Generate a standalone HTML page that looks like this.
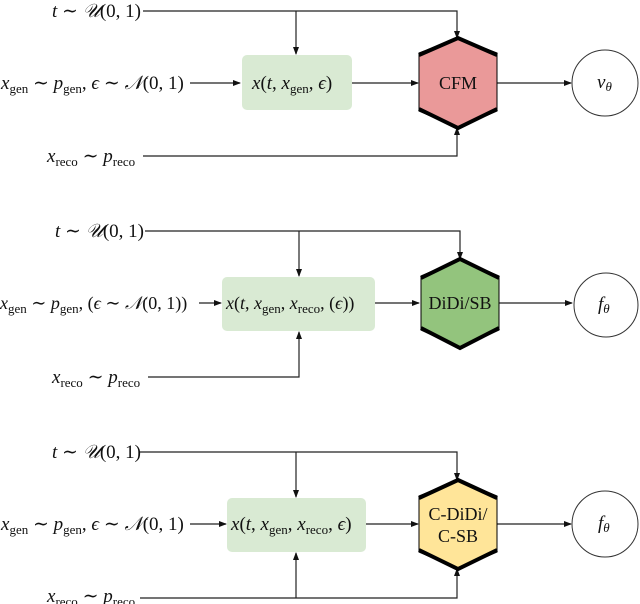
<!DOCTYPE html>
<html><head><meta charset="utf-8"><style>
html,body{margin:0;padding:0;background:#fff}
svg{display:block}
text{font-family:"Liberation Serif","DejaVu Serif",serif;font-size:19px;fill:#111}
.i{font-style:italic}
.s{font-size:13px}
.h{font-size:18px}
</style></head><body>
<svg width="640" height="604" viewBox="0 0 640 604" xmlns="http://www.w3.org/2000/svg">
<defs><marker id="a" markerWidth="8" markerHeight="6" refX="7" refY="3" orient="auto" markerUnits="userSpaceOnUse"><path d="M0,0 L8,3 L0,6 z" fill="#111"/></marker></defs>
<g stroke="#222" stroke-width="1.2" fill="none">
<path d="M143,11 H457 V38" marker-end="url(#a)"/>
<path d="M296,11 V54" marker-end="url(#a)"/>
<path d="M190,83 H240" marker-end="url(#a)"/>
<path d="M352,83 H418" marker-end="url(#a)"/>
<path d="M497,83 H571" marker-end="url(#a)"/>
<path d="M143,156 H457 V128" marker-end="url(#a)"/>
<path d="M145,231 H460 V259" marker-end="url(#a)"/>
<path d="M299,231 V276" marker-end="url(#a)"/>
<path d="M199,303 H221" marker-end="url(#a)"/>
<path d="M375,303 H419" marker-end="url(#a)"/>
<path d="M499,303 H572" marker-end="url(#a)"/>
<path d="M148,377 H299 V332" marker-end="url(#a)"/>
<path d="M140,452 H457 V480" marker-end="url(#a)"/>
<path d="M296,452 V497" marker-end="url(#a)"/>
<path d="M190,524 H226" marker-end="url(#a)"/>
<path d="M366,524 H418" marker-end="url(#a)"/>
<path d="M497,524 H571" marker-end="url(#a)"/>
<path d="M140,598 H457 V569" marker-end="url(#a)"/>
<path d="M296,598 V553" marker-end="url(#a)"/>
</g>
<rect x="242" y="55" width="110" height="55" rx="5" fill="#d9ead3"/>
<rect x="222" y="277" width="153" height="54" rx="5" fill="#d9ead3"/>
<rect x="227" y="498" width="139" height="54" rx="5" fill="#d9ead3"/>
<g stroke="#000">
<polygon points="458,38 497,53 497,111 458,128 419,111 419,53" fill="#ea9999" stroke-width="1"/>
<polyline points="419,55 458,38 497,55" fill="none" stroke-width="4"/>
<polyline points="419,109 458,128 497,109" fill="none" stroke-width="4"/>
<polygon points="460,259 499,276 499,330 460,348 421,330 421,276" fill="#93c47d" stroke-width="1"/>
<polyline points="421,278 460,259 499,278" fill="none" stroke-width="4"/>
<polyline points="421,328 460,348 499,328" fill="none" stroke-width="4"/>
<polygon points="458,480 497,496 497,552 458,569 419,552 419,496" fill="#ffe599" stroke-width="1"/>
<polyline points="419,498 458,480 497,498" fill="none" stroke-width="4"/>
<polyline points="419,550 458,569 497,550" fill="none" stroke-width="4"/>
</g>
<circle cx="605" cy="83" r="33" fill="#fff" stroke="#333" stroke-width="1"/>
<circle cx="606" cy="305" r="32" fill="#fff" stroke="#333" stroke-width="1"/>
<circle cx="605" cy="524" r="33" fill="#fff" stroke="#333" stroke-width="1"/>
<text x="52" y="17"><tspan class="i">t</tspan> ∼ <tspan class="i">𝒰</tspan>(0, 1)</text>
<text x="1" y="89"><tspan class="i">x</tspan><tspan class="s" dy="4">gen</tspan><tspan dy="-4"> ∼ </tspan><tspan class="i">p</tspan><tspan class="s" dy="4">gen</tspan><tspan dy="-4">, </tspan><tspan class="i">ϵ</tspan> ∼ <tspan class="i">𝒩</tspan>(0, 1)</text>
<text x="252" y="89"><tspan class="i">x</tspan>(<tspan class="i">t</tspan>, <tspan class="i">x</tspan><tspan class="s" dy="4">gen</tspan><tspan dy="-4">, </tspan><tspan class="i">ϵ</tspan>)</text>
<text x="458" y="89" text-anchor="middle" class="h">CFM</text>
<text x="597" y="88" class="i">v<tspan class="s" dy="3">θ</tspan></text>
<text x="47" y="162"><tspan class="i">x</tspan><tspan class="s" dy="4">reco</tspan><tspan dy="-4"> ∼ </tspan><tspan class="i">p</tspan><tspan class="s" dy="4">reco</tspan></text>
<text x="55" y="237"><tspan class="i">t</tspan> ∼ <tspan class="i">𝒰</tspan>(0, 1)</text>
<text x="0" y="309" style="font-size:18px"><tspan class="i">x</tspan><tspan class="s" dy="4">gen</tspan><tspan dy="-4"> ∼ </tspan><tspan class="i">p</tspan><tspan class="s" dy="4">gen</tspan><tspan dy="-4">, (</tspan><tspan class="i">ϵ</tspan> ∼ <tspan class="i">𝒩</tspan>(0, 1))</text>
<text x="226" y="309" style="font-size:18px"><tspan class="i">x</tspan>(<tspan class="i">t</tspan>, <tspan class="i">x</tspan><tspan class="s" dy="4">gen</tspan><tspan dy="-4">, </tspan><tspan class="i">x</tspan><tspan class="s" dy="4">reco</tspan><tspan dy="-4">, (</tspan><tspan class="i">ϵ</tspan>))</text>
<text x="460" y="309" text-anchor="middle" class="h">DiDi/SB</text>
<text x="598" y="310" class="i">f<tspan class="s" dy="3">θ</tspan></text>
<text x="52" y="383"><tspan class="i">x</tspan><tspan class="s" dy="4">reco</tspan><tspan dy="-4"> ∼ </tspan><tspan class="i">p</tspan><tspan class="s" dy="4">reco</tspan></text>
<text x="52" y="458"><tspan class="i">t</tspan> ∼ <tspan class="i">𝒰</tspan>(0, 1)</text>
<text x="1" y="530"><tspan class="i">x</tspan><tspan class="s" dy="4">gen</tspan><tspan dy="-4"> ∼ </tspan><tspan class="i">p</tspan><tspan class="s" dy="4">gen</tspan><tspan dy="-4">, </tspan><tspan class="i">ϵ</tspan> ∼ <tspan class="i">𝒩</tspan>(0, 1)</text>
<text x="231" y="530"><tspan class="i">x</tspan>(<tspan class="i">t</tspan>, <tspan class="i">x</tspan><tspan class="s" dy="4">gen</tspan><tspan dy="-4">, </tspan><tspan class="i">x</tspan><tspan class="s" dy="4">reco</tspan><tspan dy="-4">, </tspan><tspan class="i">ϵ</tspan>)</text>
<text x="458" y="520" text-anchor="middle" class="h">C-DiDi/</text>
<text x="458" y="542" text-anchor="middle" class="h">C-SB</text>
<text x="598" y="529" class="i">f<tspan class="s" dy="3">θ</tspan></text>
<text x="47" y="602"><tspan class="i">x</tspan><tspan class="s" dy="4">reco</tspan><tspan dy="-4"> ∼ </tspan><tspan class="i">p</tspan><tspan class="s" dy="4">reco</tspan></text>
</svg>
</body></html>
